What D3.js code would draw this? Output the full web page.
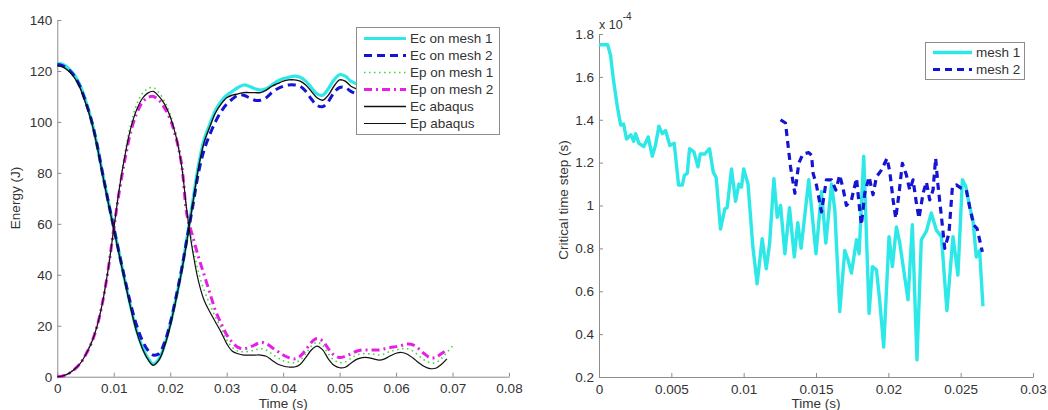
<!DOCTYPE html>
<html>
<head>
<meta charset="utf-8">
<script src="https://cdn.jsdelivr.net/npm/d3@7"></script>
<style>
  body { margin: 0; background: #fff; }
  svg text { fill: #333; }
  .axis path, .axis line { stroke: #8c8c8c; }
</style>
</head>
<body>
<div id="content"></div>
<script>
//-- left chart : energy (J) vs time, sampled every 1 ms
const energyTimeMs = [0, 1, 2, 3, 4, 5, 6, 7, 8, 9, 10, 11, 12, 13, 14, 15, 16, 17, 18, 19,
  20, 21, 22, 23, 24, 25, 26, 27, 28, 29, 30, 31, 32, 33, 34, 35, 36, 37, 38, 39,
  40, 41, 42, 43, 44, 45, 46, 47, 48, 49, 50, 51, 52, 53, 54, 55, 56, 57, 58, 59,
  60, 61, 62, 63, 64, 65, 66, 67, 68, 69, 70];
const ecMesh1 = [123, 122.5, 121, 118.5, 114.5, 108.5, 101, 91.5, 80, 69, 58.5, 48, 37.5, 27.5, 18.5, 12, 7.5, 5, 7, 12.5,
  20.5, 30.5, 41.5, 55, 69, 83, 93, 99, 104.5, 108, 110.5, 112, 113.5, 114.5, 114, 113, 112.5, 113, 114.5, 116,
  117, 117.5, 118, 117.5, 116, 113.5, 111, 110.5, 113, 116.5, 118.5, 118, 116, 115];
const ecMesh2 = [122.5, 122, 120.5, 118, 114, 108, 101, 91.5, 80, 69, 58.5, 48, 38, 28.5, 20.5, 14.5, 10.5, 8.5, 9, 13.5,
  21, 31, 42, 54.5, 67, 80, 89, 95, 100, 104, 107, 109, 110.5, 110.5, 109.5, 108.5, 108.5, 109.5, 111.5, 113,
  114, 114.5, 114.5, 114, 112, 109, 106.5, 106, 108, 111.5, 113.5, 113.5, 112, 111];
const epMesh1 = [0, 0.3, 1.3, 3, 5.3, 9, 13.5, 20, 29.5, 42.5, 58.5, 74.5, 88, 99, 106.5, 111, 113, 113.5, 111.5, 108,
  103, 95.5, 84, 64, 51, 41, 34, 28.5, 23.5, 19, 14.5, 11.5, 10, 9.8, 10, 10.5, 11, 10.5, 9, 7.5,
  6.3, 5.7, 5.5, 6.5, 9, 12, 13.5, 12.3, 9, 6.5, 5.5, 5.8, 7.2, 8.5, 9, 9, 8.8, 8.5, 9, 10,
  10.5, 11, 11, 10, 8.3, 6.5, 5.5, 5.5, 7, 9.5, 12];
const epMesh2 = [0, 0.3, 1.2, 2.8, 5, 8.5, 13, 19.5, 29, 42, 58, 73, 85.5, 96, 103, 107.5, 109.5, 110, 108.5, 105.5,
  101, 94, 83.5, 63, 55, 47, 40, 33, 26, 21, 16.5, 13.5, 11.5, 11, 11.5, 12.5, 13.5, 13, 11.5, 10,
  8.5, 7.5, 7, 8, 10.5, 13.5, 15, 14, 11, 8.5, 7.5, 8, 9, 10, 10.5, 10.5, 10.5, 10.5, 11, 11.5,
  11.8, 12.3, 12.8, 12.5, 11, 9, 7.5, 7.5, 9, 10.5];
const ecAbaqus = [122, 121.5, 120, 117.5, 113.5, 107.5, 100.5, 91, 79.5, 68.5, 58, 47.5, 37, 27, 18, 11.5, 7, 4.5, 6.5, 12,
  20, 30, 41, 54, 68, 82, 92, 98, 103.5, 107, 109.5, 110.5, 111, 111.5, 111.5, 111.5, 111.5, 112.5, 114, 115,
  116, 116.5, 116.5, 116, 114.5, 112, 109.5, 108.5, 110.5, 114, 116.5, 116, 114, 113];
const epAbaqus = [0, 0.3, 1.2, 2.8, 5, 8.5, 13, 19.5, 29, 42, 58, 74, 87, 97.5, 104.5, 109, 111.3, 112, 110, 107,
  102, 94.5, 83, 64, 49, 37.5, 30, 25.5, 21.5, 17.5, 13, 10, 9, 8.5, 8.5, 8.5, 8.5, 8, 6.5, 5,
  4.2, 3.8, 3.8, 4.8, 7.5, 10.5, 12, 10.5, 7, 4.5, 3.5, 3.7, 5.3, 6.8, 7.5, 7.5, 7, 6.5, 7, 8.2,
  9.2, 9.5, 8.8, 7.3, 5.5, 4, 3.2, 3.3, 4.8, 7];
const energyNames = ["Ec on mesh 1", "Ec on mesh 2", "Ep on mesh 1", "Ep on mesh 2", "Ec abaqus", "Ep abaqus"];
const energyTicksX = [0, 0.01, 0.02, 0.03, 0.04, 0.05, 0.06, 0.07, 0.08];
const energyTicksY = [0, 20, 40, 60, 80, 100, 120, 140];

//-- right chart : critical time step (x 1e-4 s) vs time (s)
const mesh1Time = [0, 0.0006, 0.0008, 0.001, 0.00127, 0.0015, 0.0017, 0.0019, 0.0022, 0.0024,
  0.00253, 0.00276, 0.0031, 0.0034, 0.00368, 0.0039, 0.00414, 0.00437, 0.0046, 0.0049,
  0.0052, 0.0055, 0.00576, 0.0059, 0.0061, 0.00626, 0.00656, 0.00684, 0.007, 0.0073,
  0.00764, 0.0079, 0.0081, 0.0084, 0.0087, 0.00886, 0.00916, 0.00944, 0.00967, 0.00985,
  0.01, 0.0103, 0.01064, 0.01093, 0.01128, 0.01156, 0.01179, 0.01209, 0.01232, 0.01255,
  0.01285, 0.01317, 0.0135, 0.01374, 0.01397, 0.0145, 0.015, 0.01538, 0.01568, 0.01607,
  0.0163, 0.01664, 0.01699, 0.01722, 0.01745, 0.0178, 0.01798, 0.0183, 0.01867, 0.0189,
  0.01918, 0.0194, 0.01968, 0.02005, 0.02028, 0.02056, 0.02079, 0.02106, 0.02136, 0.02166,
  0.02198, 0.02228, 0.02263, 0.02297, 0.02332, 0.02367, 0.02405, 0.02447, 0.02481, 0.02512,
  0.02535, 0.02562, 0.02585, 0.02608, 0.02631, 0.02654];
const mesh1Step = [1.75, 1.75, 1.7, 1.585, 1.46, 1.375, 1.38, 1.31, 1.33, 1.3,
  1.335, 1.29, 1.275, 1.32, 1.23, 1.28, 1.37, 1.335, 1.35, 1.28,
  1.29, 1.095, 1.095, 1.14, 1.15, 1.265, 1.25, 1.18, 1.24, 1.24,
  1.265, 1.155, 1.13, 0.89, 0.985, 0.99, 1.17, 1.02, 1.1, 1.085,
  1.17, 1.1, 0.805, 0.635, 0.845, 0.705, 0.82, 1.125, 0.945, 1.0,
  0.775, 0.99, 0.76, 0.92, 0.8, 1.12, 0.775, 1.065, 0.825, 1.1,
  0.98, 0.505, 0.79, 0.745, 0.685, 0.84, 0.775, 1.23, 0.497, 0.715,
  0.7, 0.56, 0.34, 0.855, 0.715, 0.9, 0.825, 0.7, 0.56, 0.91,
  0.28, 0.84, 0.88, 0.965, 0.885, 0.855, 0.51, 0.855, 0.675, 1.12,
  1.09, 0.995, 0.93, 0.76, 0.79, 0.53];
const mesh2Time = [0.01255, 0.01289, 0.01324, 0.01354, 0.01381, 0.01409, 0.0145, 0.01469, 0.0148, 0.01503,
  0.01538, 0.01554, 0.01572, 0.01607, 0.01637, 0.01664, 0.01687, 0.0171, 0.01745, 0.0178,
  0.01802, 0.01814, 0.01837, 0.01867, 0.01894, 0.01918, 0.01952, 0.01991, 0.0201, 0.02033,
  0.02051, 0.02074, 0.02097, 0.02125, 0.02148, 0.02171, 0.02194, 0.02212, 0.0224, 0.02263,
  0.02286, 0.02309, 0.02327, 0.02343, 0.02367, 0.0239, 0.02419, 0.02443, 0.0247, 0.02505,
  0.02539, 0.02562, 0.0259, 0.02613, 0.02631, 0.0265];
const mesh2Step = [1.4, 1.385, 1.18, 1.057, 1.197, 1.24, 1.247, 1.235, 1.15, 1.096,
  0.97, 1.04, 1.12, 1.12, 1.072, 1.142, 1.08, 1.0, 1.026, 1.127,
  0.98, 0.91, 1.057, 1.134, 1.05, 1.134, 1.165, 1.22, 1.158, 1.026,
  0.94, 1.057, 1.197, 1.142, 1.072, 1.12, 1.01, 0.94, 1.057, 1.11,
  1.026, 1.072, 1.22, 1.096, 0.948, 0.8, 0.87, 1.088, 1.096, 1.08,
  1.072, 0.994, 0.909, 0.893, 0.84, 0.784];
const stepNames = ["mesh 1", "mesh 2"];
const stepTicksX = [0, 0.005, 0.01, 0.015, 0.02, 0.025, 0.03];
const stepTicksY = [0.2, 0.4, 0.6, 0.8, 1, 1.2, 1.4, 1.6, 1.8];

//-- dimensions
const width = 1048;
const height = 410;
const fontFamily = '"Liberation Sans", Arial, sans-serif';
const frame1 = { left: 57.3, right: 509, top: 20, bottom: 376.7 };
const frame2 = { left: 599, right: 1033, top: 34, bottom: 377 };

//-- line styles, in the order the series are plotted
const energyStyles = [
  { color: "#2ee8e8", width: 3.2, dash: null },
  { color: "#1414d2", width: 3, dash: "8,5" },
  { color: "#3ed43e", width: 1.6, dash: "1.5,3.5" },
  { color: "#e61ee6", width: 3, dash: "8,4,2,4" },
  { color: "#111", width: 1.4, dash: null },
  { color: "#111", width: 1.2, dash: null },
];
const stepStyles = [
  { color: "#2ee8e8", width: 3.4, dash: null },
  { color: "#1414d2", width: 3.2, dash: "7,5" },
];

const svg = d3
  .select("#content")
  .append("svg")
  .attr("width", width)
  .attr("height", height)
  .attr("font-family", fontFamily);

buildChart1();
buildChart2();

function drawAxes(frame, x, y, xTicks, yTicks) {
  svg
    .append("g")
    .attr("class", "axis")
    .attr("transform", `translate(0,${frame.bottom})`)
    .call(
      d3.axisBottom(x).tickValues(xTicks).tickFormat((d) => String(d))
        .tickSizeInner(-4).tickSizeOuter(0).tickPadding(7)
    );
  svg
    .append("g")
    .attr("class", "axis")
    .attr("transform", `translate(${frame.left},0)`)
    .call(
      d3.axisLeft(y).tickValues(yTicks).tickFormat((d) => String(d))
        .tickSizeInner(-4).tickSizeOuter(0).tickPadding(5)
    );
  svg.selectAll(".axis").attr("font-size", 13.5).attr("font-family", fontFamily);
}

function drawLegend(box, names, styles, rowY, rowStep, sampleX1, sampleX2, textX) {
  const g = svg.append("g");
  g.append("rect")
    .attr("x", box.x).attr("y", box.y)
    .attr("width", box.w).attr("height", box.h)
    .attr("fill", "#fff").attr("stroke", "#8c8c8c");
  names.forEach((name, i) => {
    const yy = rowY + i * rowStep;
    const s = styles[i];
    g.append("line")
      .attr("x1", sampleX1).attr("x2", sampleX2)
      .attr("y1", yy).attr("y2", yy)
      .attr("stroke", s.color)
      .attr("stroke-width", s.width)
      .attr("stroke-dasharray", s.dash);
    g.append("text")
      .attr("x", textX).attr("y", yy + 4.8)
      .attr("font-size", 13.5)
      .text(name);
  });
}

function buildChart1() {
  const x = d3.scaleLinear().domain([0, 0.08]).range([frame1.left, frame1.right]);
  const y = d3.scaleLinear().domain([0, 140]).range([frame1.bottom, frame1.top]);
  drawAxes(frame1, x, y, energyTicksX, energyTicksY);

  const line = d3
    .line()
    .x((d) => x(d[0]))
    .y((d) => y(d[1]))
    .curve(d3.curveCatmullRom);

  const series = [ecMesh1, ecMesh2, epMesh1, epMesh2, ecAbaqus, epAbaqus];
  series.forEach((values, i) => {
    const pts = values.map((v, k) => [energyTimeMs[k] / 1000, v]);
    const s = energyStyles[i];
    svg
      .append("path")
      .datum(pts)
      .attr("d", line)
      .attr("fill", "none")
      .attr("stroke", s.color)
      .attr("stroke-width", s.width)
      .attr("stroke-dasharray", s.dash)
      .attr("stroke-linejoin", "round");
  });

  //-- axis labels
  svg.append("text")
    .attr("transform", `translate(20,198) rotate(-90)`)
    .attr("text-anchor", "middle")
    .attr("font-size", 13.5)
    .text("Energy (J)");
  svg.append("text")
    .attr("x", (frame1.left + frame1.right) / 2)
    .attr("y", 408)
    .attr("text-anchor", "middle")
    .attr("font-size", 13.5)
    .text("Time (s)");

  drawLegend({ x: 356.5, y: 27.5, w: 143, h: 107 }, energyNames, energyStyles,
    38.5, 17, 364, 406, 410);
}

function buildChart2() {
  const x = d3.scaleLinear().domain([0, 0.03]).range([frame2.left, frame2.right]);
  const y = d3.scaleLinear().domain([0.2, 1.8]).range([frame2.bottom, frame2.top]);
  drawAxes(frame2, x, y, stepTicksX, stepTicksY);

  const line = d3
    .line()
    .x((d) => x(d[0]))
    .y((d) => y(d[1]));

  const series = [
    d3.zip(mesh1Time, mesh1Step),
    d3.zip(mesh2Time, mesh2Step),
  ];
  series.forEach((pts, i) => {
    const s = stepStyles[i];
    svg
      .append("path")
      .datum(pts)
      .attr("d", line)
      .attr("fill", "none")
      .attr("stroke", s.color)
      .attr("stroke-width", s.width)
      .attr("stroke-dasharray", s.dash)
      .attr("stroke-linejoin", "round");
  });

  //-- exponent label
  const expo = svg.append("text")
    .attr("x", frame2.left)
    .attr("y", 28.5)
    .attr("font-size", 12.5);
  expo.append("tspan").text("x 10");
  expo.append("tspan").attr("font-size", 10).attr("dy", -8.5).text("-4");

  svg.append("text")
    .attr("transform", `translate(568,200) rotate(-90)`)
    .attr("text-anchor", "middle")
    .attr("font-size", 13.5)
    .text("Critical time step (s)");
  svg.append("text")
    .attr("x", (frame2.left + frame2.right) / 2)
    .attr("y", 408)
    .attr("text-anchor", "middle")
    .attr("font-size", 13.5)
    .text("Time (s)");

  drawLegend({ x: 925.5, y: 42.5, w: 99, h: 37 }, stepNames, stepStyles,
    52.5, 17, 933, 972, 976);
}
</script>
</body>
</html>
